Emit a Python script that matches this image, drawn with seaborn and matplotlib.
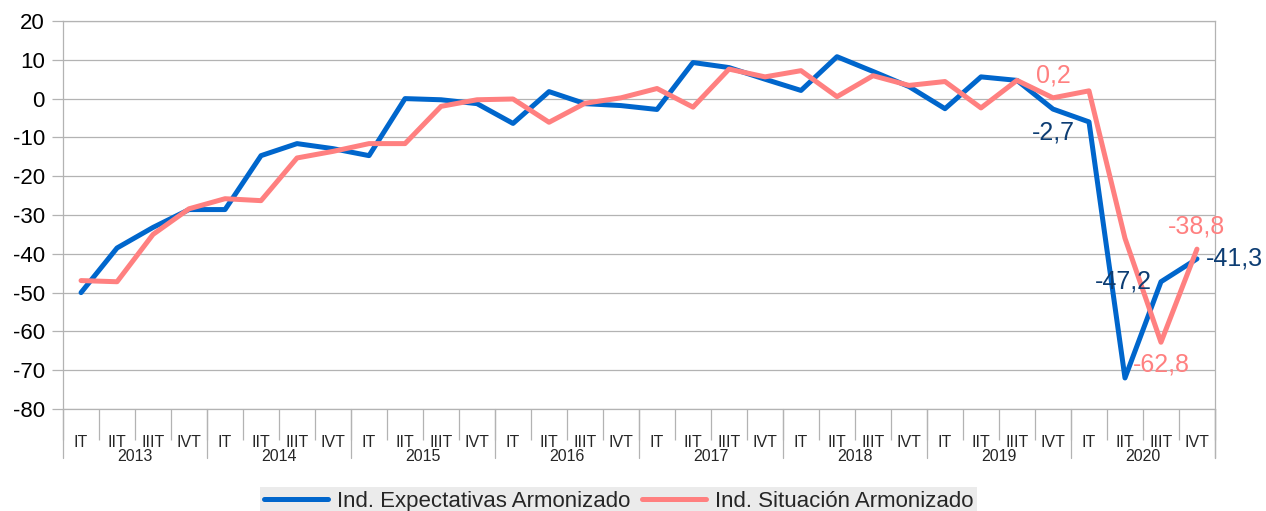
import pandas as pd
import numpy as np
import matplotlib
matplotlib.use('Agg')
import matplotlib.pyplot as plt
import matplotlib.transforms as mtransforms
import seaborn as sns

# ------------------------------------------------------------
# DATA
# ------------------------------------------------------------
years = ['2013', '2014', '2015', '2016', '2017', '2018', '2019', '2020']
quarters = ['IT', 'IIT', 'IIIT', 'IVT']

expectativas = [-50.0, -38.5, -33.2, -28.6, -28.6, -14.7, -11.6, -12.9,
                -14.7, 0.0, -0.3, -1.3, -6.4, 1.8, -1.3, -1.8,
                -2.8, 9.3, 8.0, 5.0, 2.1, 10.8, 7.0, 3.1,
                -2.6, 5.6, 4.7, -2.7, -6.0, -72.0, -47.2, -41.3]
situacion = [-46.9, -47.2, -35.0, -28.4, -25.8, -26.3, -15.3, -13.6,
             -11.6, -11.6, -2.0, -0.3, -0.1, -6.1, -1.2, 0.2,
             2.6, -2.2, 7.6, 5.6, 7.2, 0.5, 5.9, 3.4,
             4.4, -2.4, 4.7, 0.2, 2.0, -36.0, -62.8, -38.8]

name_exp = 'Ind. Expectativas Armonizado'
name_sit = 'Ind. Situación Armonizado'

n = len(expectativas)
df = pd.DataFrame({
    'idx': list(range(n)) * 2,
    'valor': expectativas + situacion,
    'serie': [name_exp] * n + [name_sit] * n,
})

BLUE = '#0066cc'
RED = '#ff8080'
NAVY = '#0d3d73'
GRID = '#b3b3b3'

# ------------------------------------------------------------
# PLOT
# ------------------------------------------------------------
sns.set_theme(style='white')
plt.rcParams['font.family'] = ['Liberation Sans', 'DejaVu Sans']
plt.rcParams['axes.unicode_minus'] = False

fig = plt.figure(figsize=(12.66, 5.11), dpi=100)
ax = fig.add_axes([0.0498, 0.1996, 0.9099, 0.7593])

sns.lineplot(data=df, x='idx', y='valor', hue='serie',
             palette={name_exp: BLUE, name_sit: RED},
             linewidth=3.6, ax=ax)
handles, labels = ax.get_legend_handles_labels()
ax.get_legend().remove()

ax.set_xlim(-0.5, n - 0.5)
ax.set_ylim(-80, 20)
ax.set_yticks(np.arange(-80, 21, 10))
ax.yaxis.grid(True, color=GRID, linewidth=0.9)
ax.set_axisbelow(True)
ax.set_xlabel('')
ax.set_ylabel('')
ax.tick_params(axis='y', length=8, width=0.9, color=GRID, pad=5,
               labelsize=16, labelcolor='black', left=True)
for s in ['left', 'right', 'top', 'bottom']:
    ax.spines[s].set_color(GRID)
    ax.spines[s].set_linewidth(0.9)

# quarter labels + separators
qlabels = [q for y in years for q in quarters]
ax.set_xticks(range(n))
ax.set_xticklabels(qlabels, fontsize=11.5)
ax.tick_params(axis='x', which='major', length=0, pad=19)
ax.set_xticks(np.arange(-0.5, n, 1), minor=True)
ax.tick_params(axis='x', which='minor', length=22, width=0.9, color=GRID,
               bottom=True)

# year labels and longer year separators
trans = mtransforms.blended_transform_factory(ax.transData, ax.transAxes)
for k, yr in enumerate(years):
    ax.text(k * 4 + 1.5, -0.122, yr, transform=trans, ha='center',
            va='center', fontsize=11.5)
for b in np.arange(-0.5, n, 4):
    ax.plot([b, b], [0, -0.127], transform=trans, color=GRID,
            linewidth=0.9, clip_on=False)
ax.plot([n - 0.5, n - 0.5], [0, -0.127], transform=trans, color=GRID,
        linewidth=0.9, clip_on=False)

# data labels
def lab(i, val, color, dx, dy, ha):
    ax.annotate(f'{val:.1f}'.replace('.', ','), (i, val),
                textcoords='offset points', xytext=(dx, dy),
                ha=ha, va='center', fontsize=18, color=color)

lab(27, expectativas[27], NAVY, 0, -17, 'center')
lab(27, situacion[27], RED, 0, 16, 'center')
lab(30, expectativas[30], NAVY, -6.5, 0, 'right')
lab(30, situacion[30], RED, 0, -16, 'center')
lab(31, situacion[31], RED, 0, 16, 'center')
lab(31, expectativas[31], NAVY, 6.5, 0, 'left')

leg = fig.legend(handles, labels, loc='upper center', ncol=2,
                 bbox_to_anchor=(0.4886, 0.046), fontsize=16,
                 frameon=True, facecolor='#e6e6e6', edgecolor='none',
                 fancybox=False, handlelength=2.9, handletextpad=0.4,
                 columnspacing=0.5, borderpad=0.15, borderaxespad=0)
for h in leg.get_lines():
    h.set_linewidth(3.6)

plt.savefig('out.png', dpi=100)
plt.close()
